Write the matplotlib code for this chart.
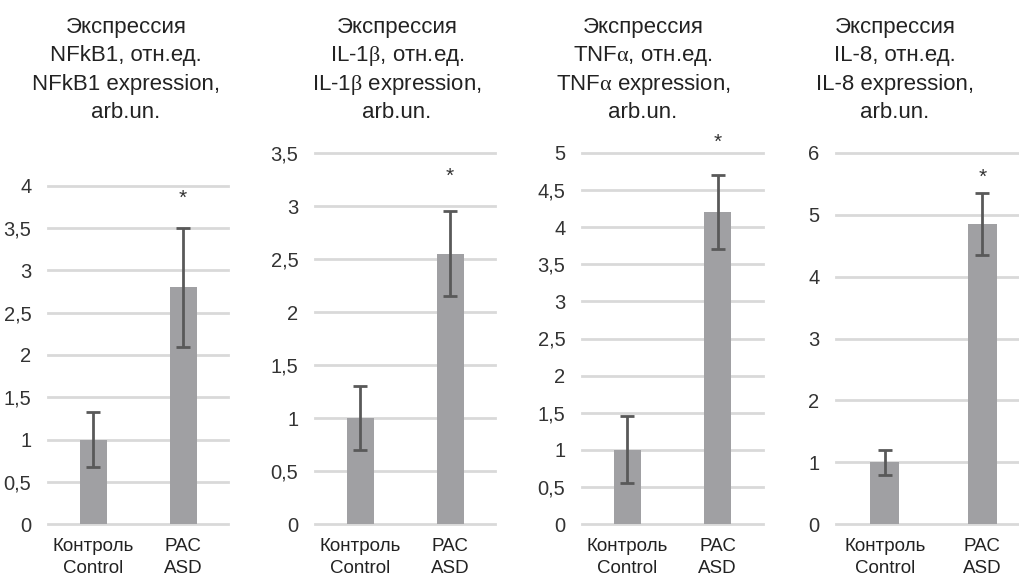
import matplotlib
matplotlib.use('Agg')
import matplotlib.pyplot as plt

plt.rcParams['font.family'] = ['Liberation Sans', 'DejaVu Sans']
plt.rcParams['mathtext.fontset'] = 'custom'
plt.rcParams['mathtext.rm'] = 'Liberation Serif'
plt.rcParams['mathtext.it'] = 'Liberation Serif:italic'

groups = ['Контроль\nControl', 'РАС\nASD']

titles = [
    ['Экспрессия', 'NFkB1, отн.ед.', 'NFkB1 expression,', 'arb.un.'],
    ['Экспрессия', 'IL-1$\\mathrm{\\beta}$, отн.ед.', 'IL-1$\\mathrm{\\beta}$ expression,', 'arb.un.'],
    ['Экспрессия', 'TNF$\\mathrm{\\alpha}$, отн.ед.', 'TNF$\\mathrm{\\alpha}$ expression,', 'arb.un.'],
    ['Экспрессия', 'IL-8, отн.ед.', 'IL-8 expression,', 'arb.un.'],
]

means = [
    [1.0, 2.8],
    [1.0, 2.55],
    [1.0, 4.2],
    [1.0, 4.85],
]
errors = [
    [0.32, 0.7],
    [0.3, 0.4],
    [0.45, 0.5],
    [0.2, 0.5],
]
star_y = [3.86, 3.28, 5.15, 5.6]

y_max = [4, 3.5, 5, 6]
y_step = [0.5, 0.5, 0.5, 1]

# axes placement in pixels (left, right, top) of a 1019x577 canvas
W, H = 1019, 577
boxes = [(48, 228, 186), (315, 495, 153), (582, 763, 153), (836, 1031, 153)]
title_x = [126, 397, 643, 895]
y_zero = 524

BAR = '#a0a0a3'
ERR = '#595959'
GRID = '#d9d9d9'

fig = plt.figure(figsize=(W / 100, H / 100), dpi=100)

for i in range(4):
    l, r, t = boxes[i]
    ax = fig.add_axes([l / W, (H - y_zero) / H, (r - l) / W, (y_zero - t) / H])
    x = [0, 1]
    ax.bar(x, means[i], width=0.3, color=BAR, zorder=2)
    ax.errorbar(x, means[i], yerr=errors[i], fmt='none', ecolor=ERR,
                elinewidth=2, capsize=5, capthick=2, zorder=3, clip_on=False)
    ax.text(1, star_y[i], '*', ha='center', va='center', fontsize=15, color='#333333')
    ax.set_xlim(-0.5, 1.5)
    ax.set_ylim(0, y_max[i])
    n = int(round(y_max[i] / y_step[i]))
    ticks = [k * y_step[i] for k in range(n + 1)]
    ax.set_yticks(ticks)
    ax.set_yticklabels([('%g' % v).replace('.', ',') for v in ticks],
                       fontsize=14.5, color='#333333')
    ax.set_xticks(x)
    ax.set_xticklabels(groups, fontsize=13.5, color='#222222', linespacing=1.4)
    ax.tick_params(axis='y', length=0, pad=12)
    ax.tick_params(axis='x', length=0, pad=10)
    for yv in ticks:
        ax.axhline(yv, color=GRID, lw=2, zorder=1, clip_on=False)
    for s in ax.spines.values():
        s.set_visible(False)
    # one text per title line so the math lines keep the same spacing
    for k, line in enumerate(titles[i]):
        fig.text(title_x[i] / W, 1 - (33 + 28.3 * k) / H, line, ha='center',
                 va='baseline', fontsize=16, color='#222222')

fig.savefig('out.png', dpi=100)
